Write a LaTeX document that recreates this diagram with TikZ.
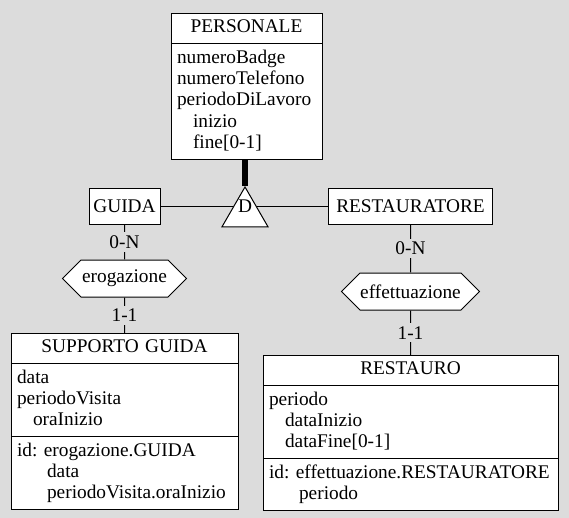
\documentclass[tikz,border=0pt]{standalone}
\usepackage{fontspec}
\setmainfont{Liberation Serif}
\usetikzlibrary{shapes.geometric, shapes.multipart, shapes.symbols, positioning}
\definecolor{bgGray}{RGB}{220,220,220}
\tikzset{
    erFont/.style={font=\fontsize{14.5pt}{16pt}\selectfont},
    entSimple/.style={rectangle, draw, fill=white, erFont, minimum height=27pt, inner xsep=3pt, inner ysep=0pt},
    entFull/.style={rectangle split, rectangle split parts=#1, draw, fill=white, erFont, align=left, inner xsep=4.5pt, inner ysep=3pt, anchor=north},
    relHex/.style={signal, signal to=west and east, signal pointer angle=90, draw, fill=white, erFont, minimum height=27.75pt, inner sep=0pt},
    isaTri/.style={regular polygon, regular polygon sides=3, draw, fill=white, erFont, minimum size=39.8pt, inner sep=0pt, text height=4pt, text depth=6.2pt},
    erEdge/.style={line width=0.75pt},
    isaEdge/.style={line width=4.5pt},
    cardLabel/.style={fill=bgGray, erFont, inner xsep=1pt, inner ysep=2.5pt},
}
\newcommand{\drawCard}[3]{
    \draw[erEdge] (#1) -- node[cardLabel] {#3} (#2);
}
\newcommand{\entHead}[1]{\strut\hfill #1\hfill\null}
\newcommand{\ind}{\hspace*{12pt}}

\begin{document}
\begin{tikzpicture}[x=0.75pt, y=-0.75pt, line width=0.75pt]

        \fill[bgGray] (0,0) rectangle (569,518);
        \useasboundingbox (0,0) rectangle (569,518);

        \node[entFull=2, text width=104.25pt] (personale) at (246.5,13)
            {\entHead{PERSONALE}\nodepart{two}\strut numeroBadge\\numeroTelefono\\periodoDiLavoro\\\ind inizio\\\ind fine[0-1]\strut};
        \node[entSimple, minimum width=53.25pt] (guida) at (124.5,206) {GUIDA};
        \node[entSimple, minimum width=123pt] (restauratore) at (410.5,206) {RESTAURATORE};
        \node[relHex, minimum width=93pt] (erogazione) at (124.5,278.5) {erogazione};
        \node[relHex, minimum width=103.5pt] (effettuazione) at (410.5,291.5) {effettuazione};
        \node[entFull=3, text width=161.25pt] (supporto) at (124.5,333)
            {\entHead{SUPPORTO GUIDA}\nodepart{two}\strut data\\periodoVisita\\\ind oraInizio\strut
             \nodepart{three}\strut id:~erogazione.GUIDA\\\phantom{id: }data\\\phantom{id: }periodoVisita.oraInizio\strut};
        \node[entFull=3, text width=212.25pt] (restauro) at (410.5,355)
            {\entHead{RESTAURO}\nodepart{two}\strut periodo\\\ind dataInizio\\\ind dataFine[0-1]\strut
             \nodepart{three}\strut id:~effettuazione.RESTAURATORE\\\phantom{id: }periodo\strut};

        \draw[erEdge] (guida) -- (restauratore);
        \node[isaTri] (isa) at (245,213.5) {D};
        \draw[isaEdge] (isa.corner 1 |- personale.south) -- (isa.corner 1);

        \drawCard{guida}{erogazione}{0-N}
        \drawCard{erogazione}{supporto}{1-1}
        \drawCard{restauratore}{effettuazione}{0-N}
        \drawCard{effettuazione}{restauro}{1-1}

    \end{tikzpicture}
\end{document}
